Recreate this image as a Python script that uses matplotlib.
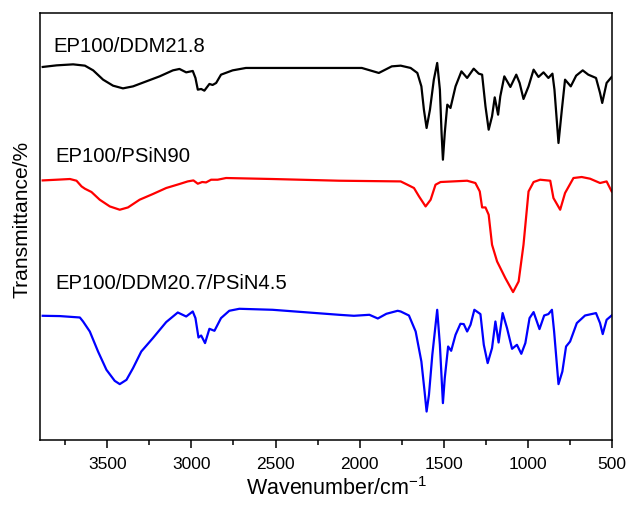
import numpy as np
import matplotlib
matplotlib.use("Agg")
from matplotlib import pyplot as plt
from matplotlib.ticker import MultipleLocator

plt.rcParams["font.family"] = ["Liberation Sans", "DejaVu Sans"]
plt.rcParams["mathtext.fontset"] = "custom"
plt.rcParams["mathtext.rm"] = "Liberation Sans"

# wavenumber (cm-1) and offset transmittance (a.u.)
ddm_wn = [3884, 3801, 3703, 3633, 3584, 3525, 3466, 3407, 3347, 3268, 3189,
          3110, 3071, 3031, 2992, 2976, 2962, 2942, 2923, 2893, 2874, 2853,
          2824, 2755, 2676, 2518, 2123, 1987, 1886, 1809, 1756, 1697, 1657,
          1633, 1618, 1602, 1582, 1559, 1539, 1523, 1513, 1505, 1494, 1479,
          1460, 1430, 1395, 1361, 1322, 1292, 1272, 1252, 1233, 1213, 1197,
          1177, 1164, 1140, 1104, 1069, 1049, 1026, 996, 966, 937, 907, 878,
          854, 842, 818, 798, 779, 745, 713, 674, 641, 595, 571, 558, 532,
          502]
ddm_t = [372.7, 374.3, 375.3, 374.0, 369.3, 360.0, 354.0, 351.3, 353.3,
         358.3, 363.3, 369.3, 370.7, 367.3, 368.7, 361.7, 350.0, 350.7,
         349.0, 355.7, 354.7, 356.7, 365.0, 369.3, 371.7, 371.7, 371.7,
         371.7, 366.7, 373.3, 374.0, 371.7, 366.7, 353.3, 330.0, 311.7,
         330.0, 360.0, 376.7, 350.0, 306.7, 280.0, 306.7, 335.0, 331.7,
         353.3, 368.3, 361.7, 371.0, 366.0, 365.0, 333.3, 310.0, 323.3,
         342.3, 325.0, 343.3, 363.3, 352.7, 365.0, 356.7, 340.7, 353.3,
         370.0, 362.7, 367.3, 361.7, 366.0, 350.0, 296.7, 330.0, 360.0,
         353.3, 364.0, 369.3, 365.0, 361.7, 346.7, 336.7, 356.7, 362.7]

psin_wn = [3884, 3801, 3722, 3683, 3653, 3633, 3594, 3545, 3485, 3426, 3377,
           3308, 3229, 3150, 3071, 3022, 2988, 2962, 2936, 2913, 2883, 2844,
           2794, 2518, 2123, 1756, 1716, 1677, 1647, 1608, 1578, 1549, 1519,
           1361, 1312, 1286, 1272, 1252, 1233, 1213, 1183, 1134, 1088, 1055,
           1026, 996, 966, 927, 867, 848, 808, 779, 729, 680, 630, 571, 532,
           502]
psin_t = [259.3, 260.0, 260.7, 259.0, 253.3, 251.0, 247.7, 240.0, 233.3,
          230.0, 232.3, 240.0, 245.7, 251.7, 255.7, 258.3, 259.3, 256.0,
          257.7, 257.3, 260.0, 260.0, 261.7, 260.7, 259.0, 258.3, 255.0,
          251.7, 243.3, 233.3, 240.0, 255.0, 257.7, 259.0, 256.7, 248.3,
          232.3, 232.3, 225.0, 195.0, 178.3, 161.7, 147.7, 158.3, 195.0,
          248.3, 257.7, 260.0, 259.0, 241.7, 230.0, 246.7, 261.7, 262.7,
          261.0, 256.7, 258.3, 248.3]

mix_wn = [3884, 3782, 3663, 3644, 3604, 3555, 3505, 3456, 3426, 3386, 3347,
          3298, 3229, 3150, 3081, 3031, 2992, 2976, 2958, 2942, 2919, 2893,
          2863, 2824, 2775, 2715, 2518, 2123, 2034, 1942, 1892, 1841, 1774,
          1756, 1707, 1667, 1633, 1614, 1602, 1588, 1568, 1539, 1523, 1505,
          1494, 1474, 1456, 1430, 1401, 1381, 1361, 1341, 1318, 1282, 1262,
          1239, 1213, 1193, 1174, 1150, 1124, 1094, 1065, 1039, 1015, 990,
          966, 931, 903, 878, 857, 844, 818, 795, 773, 749, 709, 660, 595,
          571, 555, 532, 502]
mix_t = [124.0, 123.7, 122.3, 118.3, 108.3, 88.3, 70.0, 59.0, 55.7, 60.0,
         71.7, 88.3, 101.7, 117.7, 127.3, 123.3, 128.3, 121.7, 102.3, 104.3,
         96.7, 111.0, 109.0, 121.7, 129.0, 131.0, 130.0, 125.0, 124.0, 125.0,
         121.3, 126.0, 129.0, 128.3, 124.3, 108.3, 78.3, 48.3, 28.3, 45.0,
         85.0, 130.0, 95.0, 36.7, 61.7, 93.3, 89.0, 105.0, 116.0, 115.7,
         108.3, 115.0, 130.0, 125.7, 95.0, 76.7, 91.7, 118.3, 97.3, 126.7,
         111.7, 91.0, 95.0, 86.0, 96.7, 121.7, 127.7, 110.7, 124.3, 125.7,
         130.0, 108.3, 55.7, 68.3, 93.3, 98.3, 116.7, 124.3, 126.7, 116.7,
         105.7, 120.0, 124.3]

names = ["EP100/DDM21.8", "EP100/PSiN90", "EP100/DDM20.7/PSiN4.5"]
colors = ["black", "red", "blue"]
label_pos = [(3822, 393.5), (3806, 283.5), (3806, 156.5)]

fig = plt.figure(figsize=(6.28, 5.05), dpi=100)
ax = fig.add_axes([0.0637, 0.129, 0.9108, 0.846])

series = [(ddm_wn, ddm_t), (psin_wn, psin_t), (mix_wn, mix_t)]
for (wn, t), color in zip(series, colors):
  ax.plot(wn, t, color=color, linewidth=1.6, solid_joinstyle="round")

for name, (x, y) in zip(names, label_pos):
  ax.text(x, y, name, fontsize=14.6, ha="left", va="center")

ax.set_xlim(3900, 500)
ax.set_ylim(0, 427)
ax.xaxis.set_major_locator(MultipleLocator(500))
ax.xaxis.set_minor_locator(MultipleLocator(250))
ax.tick_params(axis="x", which="major", direction="out", length=6,
               width=1.1, labelsize=12.5, pad=6)
ax.tick_params(axis="x", which="minor", direction="out", length=3.5,
               width=1.1)
ax.set_yticks([])
for spine in ax.spines.values():
  spine.set_linewidth(1.1)

ax.set_xlabel(r"Wavenumber/cm$^{\mathregular{-1}}$", fontsize=15.5, labelpad=4)
ax.xaxis.label.set_x(0.518)
ax.set_ylabel("Transmittance/%", fontsize=15.1, labelpad=6)
ax.yaxis.label.set_y(0.515)

plt.savefig("out.png", dpi=100)
